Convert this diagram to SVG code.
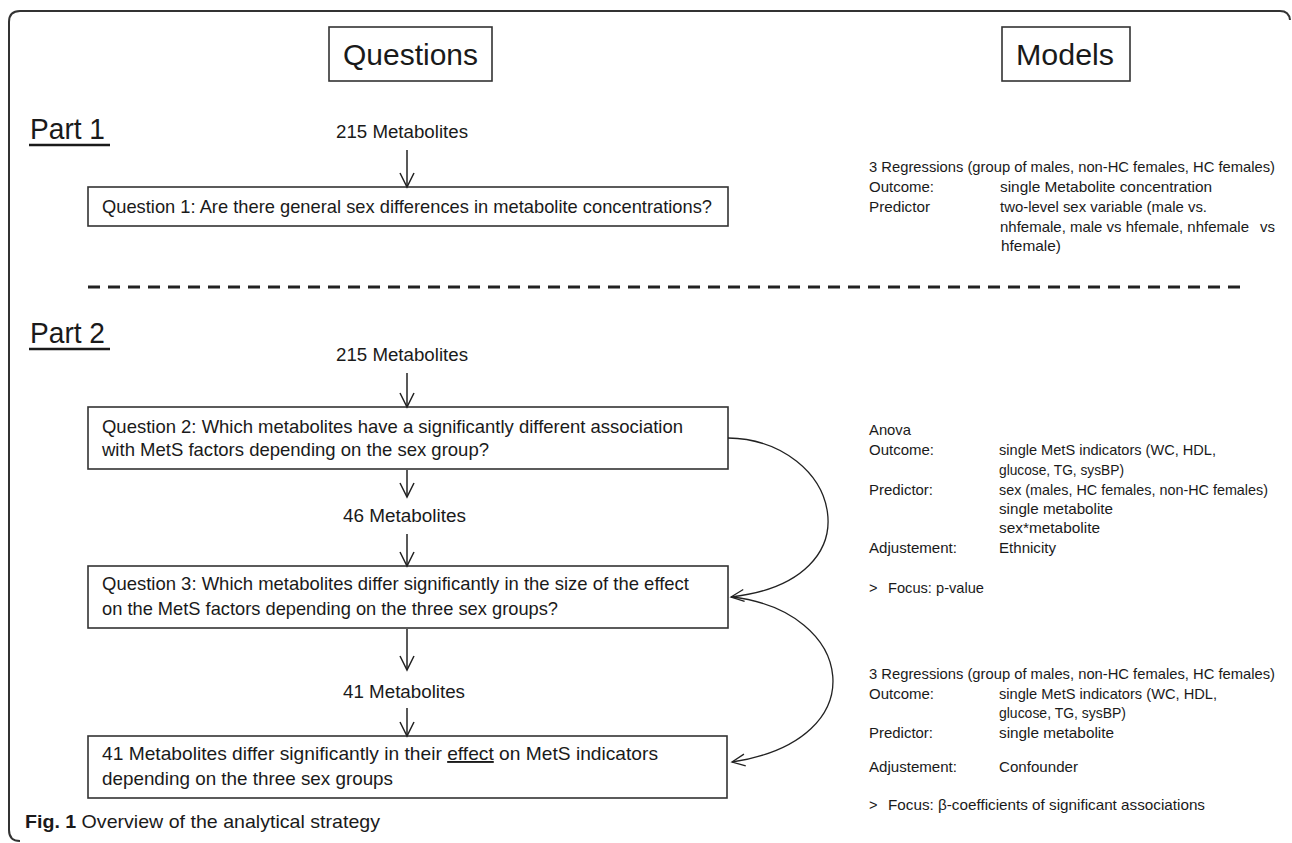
<svg xmlns="http://www.w3.org/2000/svg" width="1292" height="843" viewBox="0 0 1292 843">
<defs>
<style>
.t{font-family:"Liberation Sans",Arial,sans-serif;fill:#1a1a1a}
.hdr{font-size:30px}
.part{font-size:30px}
.cnt{font-size:17.5px}
.q{font-size:19px}
.m{font-size:14.5px}
.box{fill:#fff;stroke:#333;stroke-width:1.6}
.conn{fill:none;stroke:#222;stroke-width:1.5}
.curve{fill:none;stroke:#222;stroke-width:1.3}
.frame{fill:none;stroke:#333;stroke-width:2}
.uline{stroke:#1a1a1a;stroke-width:2.6}
</style>
<marker id="ah" markerUnits="userSpaceOnUse" markerWidth="20" markerHeight="20" viewBox="-16 -10 20 20" refX="0" refY="0" orient="auto" overflow="visible">
<path d="M-14,-7 L0,0 L-14,7" fill="none" stroke="#222" stroke-width="1.5"/>
</marker>
<marker id="ahc" markerUnits="userSpaceOnUse" markerWidth="20" markerHeight="20" viewBox="-16 -10 20 20" refX="0" refY="0" orient="auto" overflow="visible">
<path d="M-13,-6 L0,0 L-13,6" fill="none" stroke="#222" stroke-width="1.3"/>
</marker>
</defs>
<rect width="1292" height="843" fill="#fff"/>
<path id="frame" class="frame" d="M20,841 Q9,841 9,830 L9,22 Q9,11 20,11 L1280,11 Q1289,11 1290,20"/>

<g id="questions-header">
<rect class="box" x="329" y="27" width="163" height="54"/>
<text class="t hdr" x="343" y="65" textLength="135" lengthAdjust="spacingAndGlyphs">Questions</text>
</g>
<g id="models-header">
<rect class="box" x="1002" y="27" width="128" height="54"/>
<text class="t hdr" x="1016" y="65" textLength="98" lengthAdjust="spacingAndGlyphs">Models</text>
</g>

<g id="part1-label">
<text class="t part" x="30" y="139" textLength="75" lengthAdjust="spacingAndGlyphs">Part 1</text>
<line class="uline" x1="29" y1="145" x2="110" y2="145"/>
</g>
<g id="n215-part1">
<text class="t cnt" x="336" y="138" textLength="132" lengthAdjust="spacingAndGlyphs">215 Metabolites</text>
</g>
<g id="question1">
<rect class="box" x="88" y="187" width="640" height="39"/>
<text class="t q" x="102" y="213" textLength="610" lengthAdjust="spacingAndGlyphs">Question 1: Are there general sex differences in metabolite concentrations?</text>
</g>
<g id="model1">
<text class="t m" x="869" y="172" textLength="406" lengthAdjust="spacingAndGlyphs">3 Regressions (group of males, non-HC females, HC females)</text>
<text class="t m" x="869" y="192" textLength="65" lengthAdjust="spacingAndGlyphs">Outcome:</text>
<text class="t m" x="1000" y="192" textLength="212" lengthAdjust="spacingAndGlyphs">single Metabolite concentration</text>
<text class="t m" x="869" y="212" textLength="61" lengthAdjust="spacingAndGlyphs">Predictor</text>
<text class="t m" x="1000" y="212" textLength="207" lengthAdjust="spacingAndGlyphs">two-level sex variable (male vs.</text>
<text class="t m" x="1000" y="232" textLength="249" lengthAdjust="spacingAndGlyphs">nhfemale, male vs hfemale, nhfemale</text>
<text class="t m" x="1260" y="232" textLength="15" lengthAdjust="spacingAndGlyphs">vs</text>
<text class="t m" x="1001" y="251" textLength="60" lengthAdjust="spacingAndGlyphs">hfemale)</text>
</g>

<line id="separator" x1="88" y1="287" x2="1243" y2="287" stroke="#222" stroke-width="3" stroke-dasharray="12 8"/>

<g id="part2-label">
<text class="t part" x="30" y="343" textLength="75" lengthAdjust="spacingAndGlyphs">Part 2</text>
<line class="uline" x1="29" y1="349" x2="110" y2="349"/>
</g>
<g id="n215-part2">
<text class="t cnt" x="336" y="361" textLength="132" lengthAdjust="spacingAndGlyphs">215 Metabolites</text>
</g>
<g id="question2">
<rect class="box" x="88" y="407" width="640" height="62"/>
<text class="t q" x="102" y="433" textLength="581" lengthAdjust="spacingAndGlyphs">Question 2: Which metabolites have a significantly different association</text>
<text class="t q" x="102" y="456" textLength="387" lengthAdjust="spacingAndGlyphs">with MetS factors depending on the sex group?</text>
</g>
<g id="n46">
<text class="t cnt" x="343" y="522" textLength="123" lengthAdjust="spacingAndGlyphs">46 Metabolites</text>
</g>
<g id="question3">
<rect class="box" x="88" y="566" width="640" height="62"/>
<text class="t q" x="102" y="590" textLength="587" lengthAdjust="spacingAndGlyphs">Question 3: Which metabolites differ significantly in the size of the effect</text>
<text class="t q" x="102" y="615" textLength="456" lengthAdjust="spacingAndGlyphs">on the MetS factors depending on the three sex groups?</text>
</g>
<g id="n41">
<text class="t cnt" x="343" y="698" textLength="122" lengthAdjust="spacingAndGlyphs">41 Metabolites</text>
</g>
<g id="result">
<rect class="box" x="88" y="736" width="639" height="62"/>
<text class="t q" x="102" y="760" textLength="556" lengthAdjust="spacingAndGlyphs">41 Metabolites differ significantly in their <tspan text-decoration="underline">effect</tspan> on MetS indicators</text>
<text class="t q" x="102" y="785" textLength="291" lengthAdjust="spacingAndGlyphs">depending on the three sex groups</text>
</g>

<g id="model2">
<text class="t m" x="869" y="435" textLength="42" lengthAdjust="spacingAndGlyphs">Anova</text>
<text class="t m" x="869" y="455" textLength="65" lengthAdjust="spacingAndGlyphs">Outcome:</text>
<text class="t m" x="999" y="455" textLength="217" lengthAdjust="spacingAndGlyphs">single MetS indicators (WC, HDL,</text>
<text class="t m" x="999" y="475" textLength="125" lengthAdjust="spacingAndGlyphs">glucose, TG, sysBP)</text>
<text class="t m" x="869" y="495" textLength="64" lengthAdjust="spacingAndGlyphs">Predictor:</text>
<text class="t m" x="999" y="495" textLength="269" lengthAdjust="spacingAndGlyphs">sex (males, HC females, non-HC females)</text>
<text class="t m" x="999" y="514" textLength="114" lengthAdjust="spacingAndGlyphs">single metabolite</text>
<text class="t m" x="999" y="533" textLength="101" lengthAdjust="spacingAndGlyphs">sex*metabolite</text>
<text class="t m" x="869" y="553" textLength="88" lengthAdjust="spacingAndGlyphs">Adjustement:</text>
<text class="t m" x="999" y="553" textLength="57" lengthAdjust="spacingAndGlyphs">Ethnicity</text>
<text class="t m" x="869" y="593">&gt;</text>
<text class="t m" x="888" y="593" textLength="96" lengthAdjust="spacingAndGlyphs">Focus: p-value</text>
</g>
<g id="model3">
<text class="t m" x="869" y="679" textLength="406" lengthAdjust="spacingAndGlyphs">3 Regressions (group of males, non-HC females, HC females)</text>
<text class="t m" x="869" y="699" textLength="65" lengthAdjust="spacingAndGlyphs">Outcome:</text>
<text class="t m" x="999" y="699" textLength="218" lengthAdjust="spacingAndGlyphs">single MetS indicators (WC, HDL,</text>
<text class="t m" x="999" y="718" textLength="127" lengthAdjust="spacingAndGlyphs">glucose, TG, sysBP)</text>
<text class="t m" x="869" y="738" textLength="64" lengthAdjust="spacingAndGlyphs">Predictor:</text>
<text class="t m" x="999" y="738" textLength="115" lengthAdjust="spacingAndGlyphs">single metabolite</text>
<text class="t m" x="869" y="772" textLength="88" lengthAdjust="spacingAndGlyphs">Adjustement:</text>
<text class="t m" x="999" y="772" textLength="79" lengthAdjust="spacingAndGlyphs">Confounder</text>
<text class="t m" x="869" y="810">&gt;</text>
<text class="t m" x="888" y="810" textLength="317" lengthAdjust="spacingAndGlyphs">Focus: β-coefficients of significant associations</text>
</g>

<g id="connectors">
<line class="conn" x1="407" y1="150" x2="407" y2="187" marker-end="url(#ah)"/>
<line class="conn" x1="407" y1="373" x2="407" y2="407" marker-end="url(#ah)"/>
<line class="conn" x1="407" y1="470" x2="407" y2="497" marker-end="url(#ah)"/>
<line class="conn" x1="407" y1="534" x2="407" y2="566" marker-end="url(#ah)"/>
<line class="conn" x1="407" y1="629" x2="407" y2="670" marker-end="url(#ah)"/>
<line class="conn" x1="407" y1="708" x2="407" y2="736" marker-end="url(#ah)"/>
<path class="curve" d="M728,438 C840,440 880,580 731,597" marker-end="url(#ahc)"/>
<path class="curve" d="M731,597 C855,610 878,740 732,762" marker-end="url(#ahc)"/>
</g>

<g id="caption">
<text class="t" x="25" y="828" font-size="19" textLength="355" lengthAdjust="spacingAndGlyphs"><tspan font-weight="bold">Fig. 1</tspan> Overview of the analytical strategy</text>
</g>
</svg>
